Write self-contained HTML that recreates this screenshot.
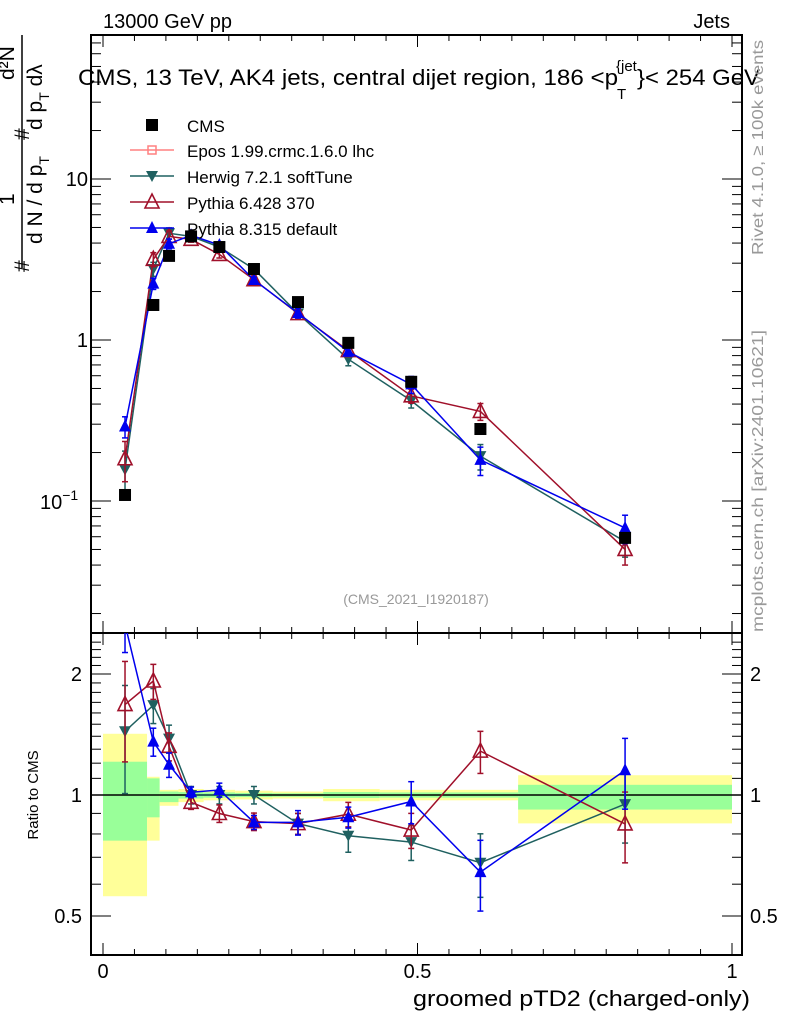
<!DOCTYPE html>
<html><head><meta charset="utf-8"><style>
body{margin:0;background:#fff;}
svg{display:block;font-family:"Liberation Sans",sans-serif;}
</style></head><body>
<svg id="chart" width="786" height="1024" xmlns="http://www.w3.org/2000/svg">
<text x="103" y="28" font-size="20">13000 GeV pp</text>
<text x="730" y="28" font-size="20" text-anchor="end">Jets</text>
<g>
<text x="78" y="85" font-size="22" textLength="540" lengthAdjust="spacingAndGlyphs">CMS, 13 TeV, AK4 jets, central dijet region, 186 &lt;p</text>
<text x="616" y="71" font-size="15">{jet</text>
<text x="617" y="99" font-size="15">T</text>
<text x="637" y="85" font-size="22" textLength="123" lengthAdjust="spacingAndGlyphs">}&lt; 254 GeV</text>
</g>
<g font-size="21">
<text transform="translate(29,272) rotate(-90)">#</text>
<text transform="translate(42,244) rotate(-90)">d N / d p<tspan font-size="14" dy="7">T</tspan></text>
<text transform="translate(14,205) rotate(-90)">1</text>
<line x1="22" y1="35" x2="22" y2="268" stroke="#000" stroke-width="1.5"/>
<text transform="translate(29,140) rotate(-90)">#</text>
<text transform="translate(14,80) rotate(-90)">d²N</text>
<text transform="translate(42,130) rotate(-90)">d p<tspan font-size="14" dy="7">T</tspan><tspan dy="-7"> dλ</tspan></text>
</g>
<text transform="translate(763,255) rotate(-90)" font-size="16" fill="#999" textLength="215" lengthAdjust="spacingAndGlyphs">Rivet 4.1.0, ≥ 100k events</text>
<text transform="translate(763,632) rotate(-90)" font-size="16" fill="#999" textLength="302" lengthAdjust="spacingAndGlyphs">mcplots.cern.ch [arXiv:2401.10621]</text>
<text x="416" y="604" font-size="14" fill="#999" text-anchor="middle">(CMS_2021_I1920187)</text>
<text x="413" y="1006" font-size="22" textLength="337" lengthAdjust="spacingAndGlyphs">groomed pTD2 (charged-only)</text>
<text transform="translate(38,795) rotate(-90)" font-size="15" text-anchor="middle">Ratio to CMS</text>
<g id="bands"></g>
<g id="axes"></g>
<g id="series"></g>
<g id="legend"></g>
</svg>
<script>
const xs = [0.035,0.08,0.105,0.14,0.185,0.24,0.31,0.39,0.49,0.6,0.83];
const cmsVals = [0.109,1.65,3.33,4.4,3.78,2.76,1.72,0.96,0.55,0.28,0.059];
const herwigVals = [0.157,2.76,4.60,4.4,3.78,2.76,1.46,0.76,0.42,0.19,0.056];
const pythia6Vals = [0.183,3.17,4.40,4.22,3.40,2.37,1.46,0.86,0.45,0.36,0.050];
const pythia8Vals = [0.29,2.24,3.96,4.47,3.89,2.36,1.47,0.845,0.53,0.18,0.068];
const herwigErr = [0.3,0.1,0.08,0.05,0.05,0.05,0.06,0.09,0.1,0.18,0.2];
const pythia6Err = [0.28,0.1,0.08,0.04,0.05,0.05,0.06,0.07,0.1,0.12,0.2];
const pythia8Err = [0.15,0.08,0.07,0.03,0.04,0.04,0.07,0.06,0.12,0.2,0.2];
const binEdges = [0,0.07,0.09,0.12,0.16,0.21,0.27,0.35,0.44,0.54,0.66,1.0];
const yellowHi = [1.42,1.11,1.03,1.035,1.03,1.025,1.02,1.035,1.03,1.03,1.12];
const yellowLo = [0.56,0.77,0.94,0.96,0.97,0.975,0.98,0.965,0.97,0.97,0.85];
const greenHi = [1.21,1.10,1.02,1.017,1.015,1.012,1.01,1.017,1.015,1.015,1.06];
const greenLo = [0.77,0.88,0.96,0.98,0.985,0.988,0.99,0.983,0.985,0.985,0.92];
const xTicks = [0,0.5,1];
const xTickLabels = ["0","0.5","1"];
const mainTicks = [10,1,0.1];
const ratioTicks = [2,1,0.5];
const ratioTickLabels = ["2","1","0.5"];

const NS="http://www.w3.org/2000/svg";
const L=91,R=742,T=35,MB=633,RB=955;
const X=v=>103+629*v;
const Y=v=>340-161*Math.log10(v);
const YR=r=>795-402*Math.log10(r);
function mk(tag,attrs,parent){const e=document.createElementNS(NS,tag);for(const k in attrs)e.setAttribute(k,attrs[k]);parent.appendChild(e);return e;}
const bands=document.getElementById('bands'),axes=document.getElementById('axes'),ser=document.getElementById('series'),leg=document.getElementById('legend');
const clipR=mk('clipPath',{id:'cr'},document.getElementById('chart'));mk('rect',{x:L,y:MB,width:R-L,height:RB-MB},clipR);
const clipM=mk('clipPath',{id:'cm'},document.getElementById('chart'));mk('rect',{x:L,y:T,width:R-L,height:MB-T},clipM);

for(let i=0;i<binEdges.length-1;i++){
 const x1=X(binEdges[i]),x2=X(binEdges[i+1]);
 const y1=mk('rect',{x:x1,y:YR(yellowHi[i]),width:x2-x1,height:YR(yellowLo[i])-YR(yellowHi[i]),fill:'#ffff99'},bands);
 
 
 const g1=mk('rect',{x:x1,y:YR(greenHi[i]),width:x2-x1,height:YR(greenLo[i])-YR(greenHi[i]),fill:'#99ff99'},bands);
 
 
}
mk('line',{x1:L,x2:R,y1:YR(1),y2:YR(1),stroke:'#000','stroke-width':1.5},axes);
const fm=mk('rect',{x:L,y:T,width:R-L,height:MB-T,fill:'none',stroke:'#000','stroke-width':2},axes);


const fr=mk('rect',{x:L,y:MB,width:R-L,height:RB-MB,fill:'none',stroke:'#000','stroke-width':2},axes);


for(let v=0;v<=1.0001;v+=0.05){
 const big=Math.abs(v*2-Math.round(v*2))<1e-6;const h=big?12:6;const x=X(v);
 for(const [a,b] of [[T,MB],[MB,RB]]){mk('line',{x1:x,x2:x,y1:b,y2:b-h,stroke:'#000'},axes);mk('line',{x1:x,x2:x,y1:a,y2:a+h,stroke:'#000'},axes);}
}
xTicks.forEach((v,i)=>{const t=mk('text',{x:X(v),y:978,'font-size':20,'text-anchor':'middle'},axes);t.textContent=xTickLabels[i];
 
 });
for(let d=-2;d<=1;d++)for(let m=1;m<=9;m++){const v=m*Math.pow(10,d);const y=Y(v);if(y<T||y>MB)continue;const h=m==1?20:10;
 mk('line',{x1:L,x2:L+h,y1:y,y2:y,stroke:'#000'},axes);mk('line',{x1:R,x2:R-h,y1:y,y2:y,stroke:'#000'},axes);}
const ml=[["10",88,186],["1",88,347]];
ml.forEach(a=>{const t=mk('text',{x:a[1],y:a[2],'font-size':20,'text-anchor':'end'},axes);t.textContent=a[0];
 
 });
const t01=mk('text',{x:40,y:509,'font-size':20},axes);t01.innerHTML='10<tspan font-size="14" dy="-9">−1</tspan>';


for(let r=0.4;r<=2.5;r+=0.1){const y=YR(r);if(y<MB||y>RB)continue;const big=ratioTicks.some(t=>Math.abs(t-r)<1e-6);const h=big?20:10;
 mk('line',{x1:L,x2:L+h,y1:y,y2:y,stroke:'#000'},axes);mk('line',{x1:R,x2:R-h,y1:y,y2:y,stroke:'#000'},axes);}
ratioTicks.forEach((r,i)=>{for(const [x,a] of [[82,'end'],[750,'start']]){const t=mk('text',{x:x,y:YR(r)+7,'font-size':20,'text-anchor':a},axes);t.textContent=ratioTickLabels[i];
 
 }});

function marker(type,x,y,col,g){
 if(type=='sq')return mk('rect',{x:x-6,y:y-6,width:12,height:12,fill:col},g);
 if(type=='down')return mk('polygon',{points:`${x-6},${y-5} ${x+6},${y-5} ${x},${y+6}`,fill:col},g);
 if(type=='up')return mk('polygon',{points:`${x-6},${y+5} ${x+6},${y+5} ${x},${y-7}`,fill:col},g);
 if(type=='open')return mk('polygon',{points:`${x-7},${y+6} ${x+7},${y+6} ${x},${y-8}`,fill:'none',stroke:col,'stroke-width':1.6},g);
}
const models=[
 {name:'herwig',vals:herwigVals,err:herwigErr,col:'#1f6060',m:'down'},
 {name:'pythia6',vals:pythia6Vals,err:pythia6Err,col:'#a0102a',m:'open'},
 {name:'pythia8',vals:pythia8Vals,err:pythia8Err,col:'#0000ee',m:'up'}];
models.forEach(s=>{
 const gm=mk('g',{'clip-path':'url(#cm)'},ser);
 
 
 const gr=mk('g',{'clip-path':'url(#cr)'},ser);
 
 
 mk('polyline',{points:xs.map((x,i)=>X(x)+','+Y(s.vals[i])).join(' '),fill:'none',stroke:s.col,'stroke-width':1.5},gm);
 const rat=s.vals.map((v,i)=>v/cmsVals[i]);
 mk('polyline',{points:xs.map((x,i)=>X(x)+','+YR(rat[i])).join(' '),fill:'none',stroke:s.col,'stroke-width':1.5},gr);
 xs.forEach((x,i)=>{
  for(const [g,f,v] of [[gm,Y,s.vals[i]],[gr,YR,rat[i]]]){
   const hi=f(v*(1+s.err[i])),lo=f(v*(1-s.err[i]));
   mk('line',{x1:X(x),x2:X(x),y1:hi,y2:lo,stroke:s.col,'stroke-width':1.5},g);
   mk('line',{x1:X(x)-3,x2:X(x)+3,y1:hi,y2:hi,stroke:s.col,'stroke-width':1.5},g);
   mk('line',{x1:X(x)-3,x2:X(x)+3,y1:lo,y2:lo,stroke:s.col,'stroke-width':1.5},g);
   const p=marker(s.m,X(x),f(v),s.col,g);
   
   
  }
 });
});
xs.forEach((x,i)=>{const p=marker('sq',X(x),Y(cmsVals[i]),'#000',ser);
 
 });
const le=[['CMS','sq','#000',125],['Epos 1.99.crmc.1.6.0 lhc','epos','#ff8080',150],['Herwig 7.2.1 softTune','down','#1f6060',176],['Pythia 6.428 370','open','#a0102a',202],['Pythia 8.315 default','up','#0000ee',228]];
le.forEach(e=>{const g=mk('g',{},leg);
 
 
 if(e[1]!='sq')mk('line',{x1:130,x2:174,y1:e[3],y2:e[3],stroke:e[2],'stroke-width':1.5},g);
 if(e[1]=='epos'){mk('rect',{x:148,y:e[3]-4,width:8,height:8,fill:'none',stroke:e[2],'stroke-width':1.5},g);}
 else marker(e[1],152,e[3],e[2],g);
 const t=mk('text',{x:187,y:e[3]+7,'font-size':17},g);t.textContent=e[0];});
</script>
</body></html>
